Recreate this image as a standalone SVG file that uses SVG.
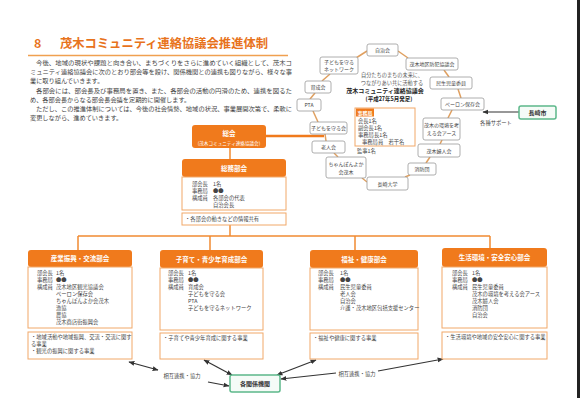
<svg xmlns="http://www.w3.org/2000/svg" width="584" height="398" viewBox="0 0 584 398">
<style>
text{font-family:"Noto Sans CJK JP","Noto Sans",sans-serif;}
.title{font-size:12.5px;font-weight:bold;fill:#e8731c;}
.para{font-size:6.2px;fill:#444;}
.hdr{fill:#f07a1c;}
.hdrt{font-size:6.5px;font-weight:bold;fill:#fff;text-anchor:middle;}
.body{fill:#fff;stroke:#f1a868;stroke-width:1;}
.sm{font-size:5.3px;fill:#444;}
.ring{fill:#fff;stroke:#9a9a9a;stroke-width:0.8;}
.rt{font-size:5px;fill:#444;text-anchor:middle;}
.rl{stroke:#e0a060;stroke-width:1.5;fill:none;}
.org{stroke:#f07a1c;stroke-width:2.5;fill:none;}
.oline{stroke:#f08a30;stroke-width:1.5;fill:none;}
.grn{fill:#f5fbf7;stroke:#5cb88a;stroke-width:1.5;}
.gt{font-size:6px;fill:#333;text-anchor:middle;font-weight:bold;}
.arr{stroke:#333;stroke-width:1.2;fill:none;marker-end:url(#ah);}
.arr2{stroke:#333;stroke-width:1.2;fill:none;marker-start:url(#ahs);marker-end:url(#ah);}
</style>
<defs>
<marker id="ah" viewBox="0 0 10 10" refX="9" refY="5" markerWidth="5" markerHeight="5" orient="auto"><path d="M0,1 L10,5 L0,9 z" fill="#333"/></marker>
<marker id="ahs" viewBox="0 0 10 10" refX="1" refY="5" markerWidth="5" markerHeight="5" orient="auto"><path d="M10,1 L0,5 L10,9 z" fill="#333"/></marker>
</defs>
<rect width="584" height="398" fill="#fff"/>
<line x1="578.5" y1="0" x2="578.5" y2="398" stroke="#222" stroke-width="3"/>

<g id="heading">
<text class="title" x="34" y="48">8</text>
<text class="title" x="60" y="48" textLength="208" lengthAdjust="spacingAndGlyphs">茂木コミュニティ連絡協議会推進体制</text>
<line x1="28" y1="55.5" x2="288" y2="55.5" stroke="#f0a050" stroke-width="1.5"/>
</g>
<g id="paragraph">
<text class="para" x="36" y="65" textLength="256" lengthAdjust="spacingAndGlyphs">今後、地域の現状や課題と向き合い、まちづくりをさらに進めていく組織として、茂木コ</text>
<text class="para" x="30" y="74" textLength="262" lengthAdjust="spacingAndGlyphs">ミュニティ連絡協議会に次のとおり部会等を設け、関係機関との連携も図りながら、様々な事</text>
<text class="para" x="30" y="83">業に取り組んでいきます。</text>
<text class="para" x="36" y="93" textLength="256" lengthAdjust="spacingAndGlyphs">各部会には、部会長及び事務局を置き、また、各部会の活動の円滑のため、連携を図るた</text>
<text class="para" x="30" y="102">め、各部会長からなる部会長会議を定期的に開催します。</text>
<text class="para" x="36" y="111" textLength="256" lengthAdjust="spacingAndGlyphs">ただし、この推進体制については、今後の社会情勢、地域の状況、事業展開次第で、柔軟に</text>
<text class="para" x="30" y="120">変更しながら、進めていきます。</text>
</g>

<g id="connectors">
<line class="org" x1="266" y1="136" x2="324" y2="136"/>
<line class="oline" x1="230" y1="148" x2="230" y2="160"/>
<line class="oline" x1="230" y1="225" x2="230" y2="236"/>
<line class="oline" x1="78" y1="236" x2="490" y2="236"/>
<line class="oline" x1="78" y1="236" x2="78" y2="250"/>
<line class="oline" x1="210" y1="236" x2="210" y2="250"/>
<line class="oline" x1="355" y1="236" x2="355" y2="250"/>
<line class="oline" x1="490" y1="236" x2="490" y2="249"/>
<line class="rl" x1="398" y1="51" x2="408" y2="58"/>
<line class="rl" x1="444" y1="70" x2="449" y2="77"/>
<line class="rl" x1="458" y1="89" x2="461" y2="98"/>
<line class="rl" x1="452" y1="110" x2="448" y2="118"/>
<line class="rl" x1="442" y1="140" x2="440" y2="144"/>
<line class="rl" x1="430" y1="157" x2="426" y2="163"/>
<line class="rl" x1="410" y1="175" x2="405" y2="177"/>
<line class="rl" x1="367" y1="182" x2="362" y2="178"/>
<line class="rl" x1="338" y1="157" x2="334" y2="153"/>
<line class="rl" x1="326" y1="141" x2="325" y2="134"/>
<line class="rl" x1="318" y1="122" x2="313" y2="111"/>
<line class="rl" x1="310" y1="99" x2="315" y2="93"/>
<line class="rl" x1="322" y1="81" x2="330" y2="74"/>
<line class="rl" x1="356" y1="58" x2="367" y2="51"/>
<line class="arr" x1="519" y1="112" x2="483" y2="112"/>
<line class="arr2" x1="158" y1="370" x2="129" y2="362" />
<line class="arr" x1="208" y1="382" x2="229" y2="386"/>
<line class="arr2" x1="232" y1="375" x2="204" y2="360"/>
<line class="arr2" x1="277" y1="375" x2="316" y2="360"/>
<line class="arr" x1="336" y1="373" x2="281" y2="379"/>
<line class="arr" x1="378" y1="371" x2="443" y2="359"/>
<text class="sm" x="182" y="378" text-anchor="middle">相互連携・協力</text>
<text class="sm" x="357" y="376" text-anchor="middle">相互連携・協力</text>
<text class="sm" x="496" y="125" text-anchor="middle">各種サポート</text>
</g>

<g id="soukai">
<rect x="192" y="125" width="74" height="23" rx="3" class="hdr"/>
<text class="hdrt" x="229" y="136" font-size="7">総会</text>
<text x="229" y="144.5" font-size="4.6" fill="#fff" text-anchor="middle">(茂木コミュニティ連絡協議会)</text>
</g>

<g id="soumu">
<rect x="182" y="159" width="104" height="18" rx="3" class="hdr"/>
<text class="hdrt" x="234" y="170.5">総務部会</text>
<rect x="182" y="177" width="104" height="33" class="body"/>
<text class="sm" x="192" y="186">部会長</text><text class="sm" x="213" y="186">1名</text>
<text class="sm" x="192" y="193">事務局</text><text class="sm" x="213" y="193">●●</text>
<text class="sm" x="192" y="200">構成員</text><text class="sm" x="213" y="200">各部会の代表</text>
<text class="sm" x="213" y="207">自治会長</text>
<rect x="182" y="213" width="104" height="12" class="body"/>
<text class="sm" x="185" y="221">・各部会の動きなどの情報共有</text>
</g>

<g id="ring-jichikai"><rect class="ring" x="367" y="44" width="31" height="12" rx="2"/><text class="rt" x="382.5" y="52">自治会</text></g>
<g id="ring-bouhan"><rect class="ring" x="406" y="58" width="52" height="12" rx="2"/><text class="rt" x="432" y="66">茂木地区防犯協議会</text></g>
<g id="ring-minsei"><rect class="ring" x="430" y="77" width="42" height="12" rx="2"/><text class="rt" x="451" y="85">民生児童委員</text></g>
<g id="ring-peron"><rect class="ring" x="441" y="98" width="43" height="12" rx="2"/><text class="rt" x="462.5" y="106">ペーロン保存会</text></g>
<g id="ring-earth"><rect class="ring" x="423" y="118" width="37" height="22" rx="2"/><text class="rt" x="441.5" y="127">茂木の環境を考</text><text class="rt" x="441.5" y="135">える会アース</text></g>
<g id="ring-fujin"><rect class="ring" x="418" y="144" width="42" height="13" rx="2"/><text class="rt" x="439" y="152.5">茂木婦人会</text></g>
<g id="ring-shoubou"><rect class="ring" x="408" y="163" width="28" height="12" rx="2"/><text class="rt" x="422" y="171">消防団</text></g>
<g id="ring-daigaku"><rect class="ring" x="367" y="177" width="41" height="13" rx="2"/><text class="rt" x="387.5" y="185.5">長崎大学</text></g>
<g id="ring-chanpon"><rect class="ring" x="326" y="157" width="40" height="21" rx="2"/><text class="rt" x="346" y="166">ちゃんぽんよか</text><text class="rt" x="346" y="174">会茂木</text></g>
<g id="ring-roujin"><rect class="ring" x="312" y="141" width="33" height="12" rx="2"/><text class="rt" x="328.5" y="149">老人会</text></g>
<g id="ring-mamorukai"><rect class="ring" x="310" y="122" width="37" height="12" rx="2"/><text class="rt" x="328.5" y="130">子どもを守る会</text></g>
<g id="ring-pta"><rect class="ring" x="297" y="99" width="24" height="12" rx="2"/><text class="rt" x="309" y="107">PTA</text></g>
<g id="ring-ikusei"><rect class="ring" x="305" y="81" width="26" height="12" rx="2"/><text class="rt" x="318" y="89">育成会</text></g>
<g id="ring-network"><rect class="ring" x="320" y="57" width="38" height="17" rx="2"/><text class="rt" x="339" y="64">子どもを守る</text><text class="rt" x="339" y="71">ネットワーク</text></g>

<g id="center">
<text x="392" y="77" font-size="5.2" fill="#555" text-anchor="middle">自分たちのまちの未来に、</text>
<text x="392" y="85" font-size="5.2" fill="#555" text-anchor="middle">つながりあい共に活動する</text>
<text x="385" y="93" font-size="6" font-weight="bold" fill="#222" text-anchor="middle">茂木コミュニティ連絡協議会</text>
<text x="389" y="101" font-size="5.5" font-weight="bold" fill="#222" text-anchor="middle">(平成27年5月発足)</text>
</g>
<g id="jimukyoku">
<rect x="355" y="108" width="60" height="38" fill="#fff" stroke="#f1a868" stroke-width="1"/>
<rect x="356" y="108.5" width="18" height="8" class="hdr"/>
<text x="365" y="114.5" font-size="5" fill="#fff" text-anchor="middle" font-weight="bold">事務局</text>
<text class="sm" x="358" y="123">会長1名</text>
<text class="sm" x="358" y="130">副会長1名</text>
<text class="sm" x="358" y="137">事務局長1名</text>
<text class="sm" x="362" y="144">事務局員　若干名</text>
<text class="sm" x="357" y="153">監事1名</text>
</g>

<g id="nagasaki"><rect class="grn" x="519" y="106" width="37" height="13" rx="2"/><text class="gt" x="537.5" y="114.8">長崎市</text></g>

<g id="sangyou">
<rect x="28" y="250" width="104" height="17" rx="3" class="hdr"/>
<text class="hdrt" x="80" y="261">産業振興・交流部会</text>
<rect x="28" y="267" width="104" height="61" class="body"/>
<text class="sm" x="37" y="275">部会長</text><text class="sm" x="56" y="275">1名</text>
<text class="sm" x="37" y="282">事務局</text><text class="sm" x="56" y="282">●●</text>
<text class="sm" x="37" y="289">構成員</text><text class="sm" x="56" y="289">茂木地区観光協議会</text>
<text class="sm" x="56" y="296">ペーロン保存会</text>
<text class="sm" x="56" y="303">ちゃんぽんよか会茂木</text>
<text class="sm" x="56" y="310">漁協</text>
<text class="sm" x="56" y="317">農協</text>
<text class="sm" x="56" y="324">茂木商店街振興会</text>
<rect x="28" y="332" width="104" height="27" class="body"/>
<text class="sm" x="31" y="339">・地域活動や地域振興、交流・交流に関す</text>
<text class="sm" x="31" y="346">る事業</text>
<text class="sm" x="31" y="353">・観光の振興に関する事業</text>
</g>

<g id="kosodate">
<rect x="160" y="250" width="103" height="18" rx="3" class="hdr"/>
<text class="hdrt" x="211.5" y="261.5">子育て・青少年育成部会</text>
<rect x="160" y="268" width="103" height="62" class="body"/>
<text class="sm" x="168" y="275">部会長</text><text class="sm" x="188" y="275">1名</text>
<text class="sm" x="168" y="282">事務局</text><text class="sm" x="188" y="282">●●</text>
<text class="sm" x="168" y="289">構成員</text><text class="sm" x="188" y="289">育成会</text>
<text class="sm" x="188" y="296">子どもを守る会</text>
<text class="sm" x="188" y="303">PTA</text>
<text class="sm" x="188" y="310">子どもを守るネットワーク</text>
<rect x="160" y="333" width="103" height="26" class="body"/>
<text class="sm" x="163" y="340">・子育てや青少年育成に関する事業</text>
</g>

<g id="fukushi">
<rect x="310" y="250" width="108" height="18" rx="3" class="hdr"/>
<text class="hdrt" x="364" y="261.5">福祉・健康部会</text>
<rect x="310" y="268" width="108" height="62" class="body"/>
<text class="sm" x="318" y="275">部会長</text><text class="sm" x="340" y="275">1名</text>
<text class="sm" x="318" y="282">事務局</text><text class="sm" x="340" y="282">●●</text>
<text class="sm" x="318" y="289">構成員</text><text class="sm" x="340" y="289">民生児童委員</text>
<text class="sm" x="340" y="296">老人会</text>
<text class="sm" x="340" y="303">自治会</text>
<text class="sm" x="340" y="310">介護・茂木地区包括支援センター</text>
<rect x="310" y="333" width="108" height="26" class="body"/>
<text class="sm" x="313" y="340">・福祉や健康に関する事業</text>
</g>

<g id="seikatsu">
<rect x="442" y="248" width="105" height="19" rx="3" class="hdr"/>
<text class="hdrt" x="494.5" y="260">生活環境・安全安心部会</text>
<rect x="442" y="267" width="105" height="61" class="body"/>
<text class="sm" x="452" y="275">部会長</text><text class="sm" x="472" y="275">1名</text>
<text class="sm" x="452" y="282">事務局</text><text class="sm" x="472" y="282">●●</text>
<text class="sm" x="452" y="289">構成員</text><text class="sm" x="472" y="289">民生児童委員</text>
<text class="sm" x="472" y="296">茂木の環境を考える会アース</text>
<text class="sm" x="472" y="303">茂木婦人会</text>
<text class="sm" x="472" y="310">消防団</text>
<text class="sm" x="472" y="317">自治会</text>
<rect x="442" y="332" width="105" height="27" class="body"/>
<text class="sm" x="445" y="339">・生活環境や地域の安全安心に関する事業</text>
</g>

<g id="kankei"><rect class="grn" x="230" y="375" width="50" height="17" rx="2"/><text class="gt" x="255" y="386">各関係機関</text></g>
</svg>
